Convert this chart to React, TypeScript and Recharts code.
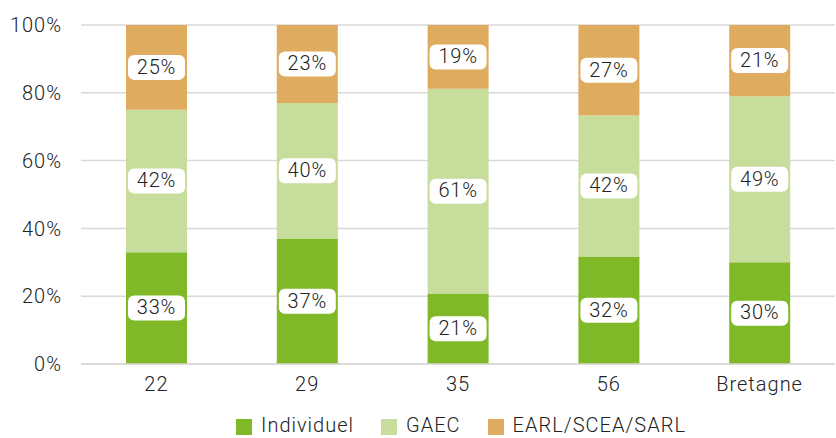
import { Bar, BarChart, CartesianGrid, LabelList, XAxis, YAxis } from 'recharts'

const departements = ['22', '29', '35', '56', 'Bretagne']
const individuel = [33, 37, 21, 32, 30]
const gaec = [42, 40, 61, 42, 49]
const earl = [25, 23, 19, 27, 21]
const yTicks = [0, 0.2, 0.4, 0.6, 0.8, 1]

const series = [
  { key: 'individuel', name: 'Individuel', color: '#80b927' },
  { key: 'gaec', name: 'GAEC', color: '#c6dd9c' },
  { key: 'earl', name: 'EARL/SCEA/SARL', color: '#dfab5e' },
]

const data = departements.map((d, i) => ({
  name: d,
  individuel: individuel[i],
  gaec: gaec[i],
  earl: earl[i],
}))

const font = 'Roboto, "DejaVu Sans", sans-serif'
const txt = '#222'

function BoxLabel(props: any) {
  const { x, y, width, height, value } = props
  const cx = x + width / 2
  const cy = y + height / 2
  return (
    <g>
      <rect x={cx - 28.5} y={cy - 12.5} width={57} height={25} rx={6} fill="#fff" />
      <text x={cx} y={cy + 1} textAnchor="middle" dominantBaseline="middle" fontSize={20} fontWeight={300} letterSpacing={0.8} fill={txt} fontFamily={font}>
        {value}%
      </text>
    </g>
  )
}

function LegendBox() {
  return (
    <div style={{ position: 'absolute', left: 0, top: 417, width: 836, height: 17, display: 'flex', justifyContent: 'center', gap: 27, fontFamily: font, fontSize: 20, fontWeight: 300, letterSpacing: 1, color: txt, paddingLeft: 86, boxSizing: 'border-box' }}>
      {series.map((s) => (
        <div key={s.key} style={{ display: 'flex', alignItems: 'center', height: 17 }}>
          <div style={{ width: 16, height: 16, background: s.color, marginRight: 9, marginTop: 3 }} />
          <div style={{ lineHeight: '17px', height: 17 }}>{s.name}</div>
        </div>
      ))}
    </div>
  )
}

export default function App() {
  const tick = { fontSize: 20, fontWeight: 300, fill: txt, fontFamily: font, letterSpacing: 1 }
  return (
    <div style={{ position: 'absolute', left: 0, top: 0, width: 836, height: 438, background: '#fff', overflow: 'hidden' }}>
      <BarChart
        width={836}
        height={438}
        data={data}
        stackOffset="expand"
        margin={{ top: 25, right: 1, left: 0, bottom: 28 }}
      >
        <CartesianGrid vertical={false} stroke="#d9d9d9" strokeWidth={1.5} />
        <XAxis
          dataKey="name"
          tickLine={false}
          axisLine={{ stroke: '#d9d9d9', strokeWidth: 1.5 }}
          tick={tick}
          tickMargin={7}
          height={46}
        />
        <YAxis
          ticks={yTicks}
          domain={[0, 1]}
          tickFormatter={(v: number) => `${Math.round(v * 100)}%`}
          axisLine={false}
          tickLine={false}
          tickSize={0}
          tickMargin={19}
          width={81}
          tick={tick}
        />
        {series.map((s) => (
          <Bar key={s.key} dataKey={s.key} name={s.name} stackId="a" fill={s.color} barSize={61} isAnimationActive={false}>
            <LabelList dataKey={s.key} content={<BoxLabel />} />
          </Bar>
        ))}
      </BarChart>
      <LegendBox />
    </div>
  )
}
